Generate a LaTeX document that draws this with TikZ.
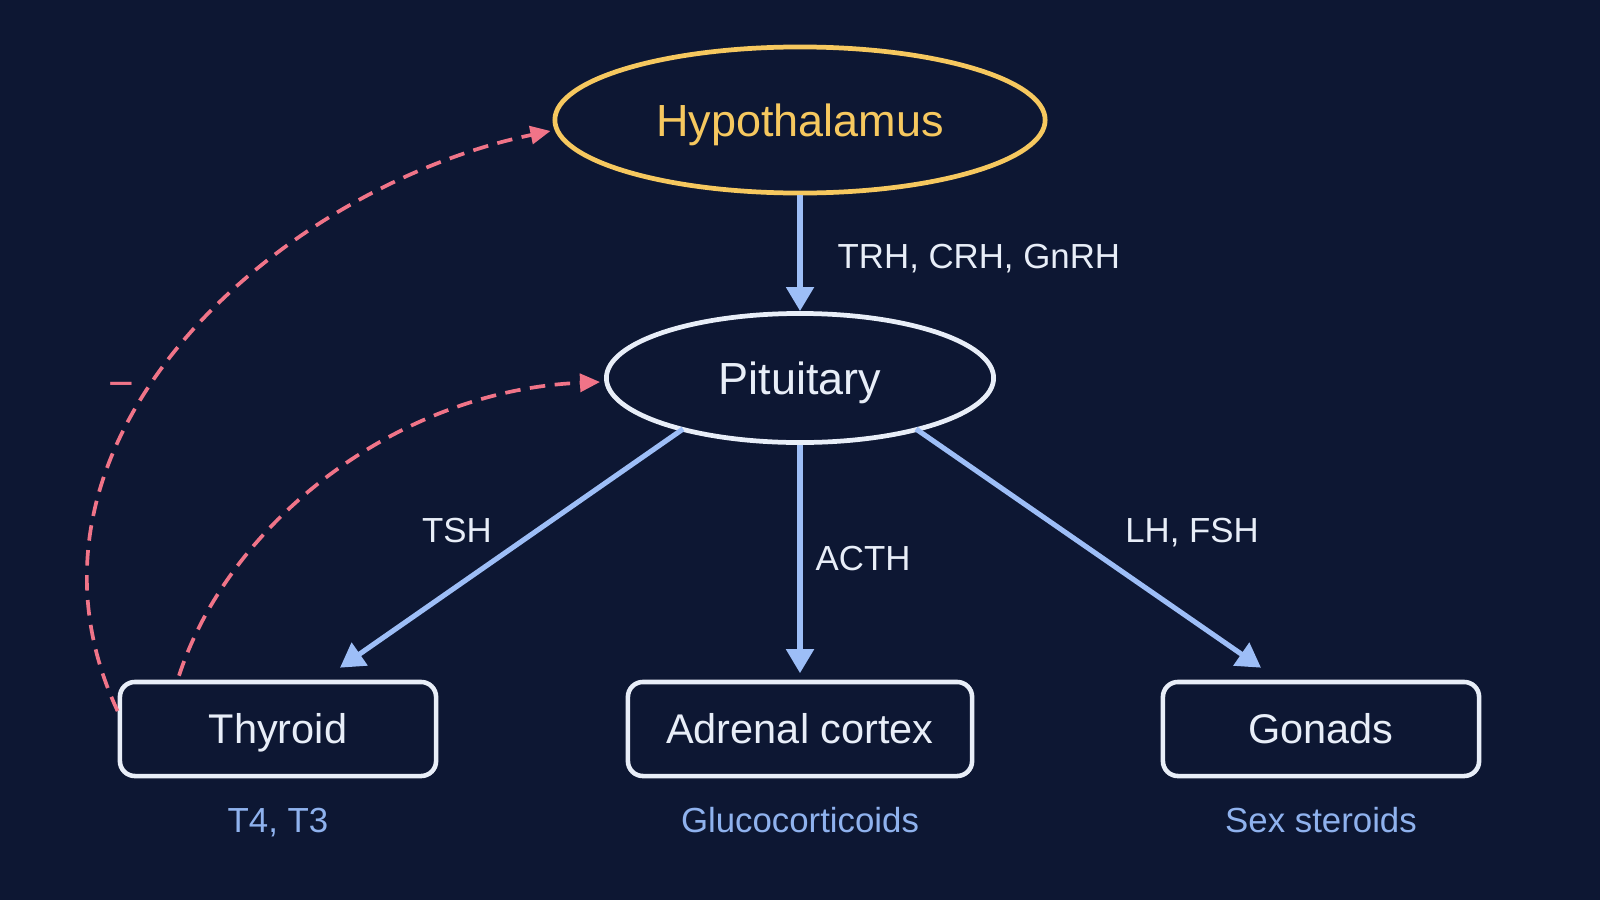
\documentclass[tikz,border=0pt]{standalone}
\usepackage{fontspec}
\setmainfont{Liberation Sans}
\usetikzlibrary{shapes.geometric,arrows.meta,calc}
\definecolor{bg}{RGB}{13,23,51}
\definecolor{yel}{RGB}{246,200,95}
\definecolor{wht}{RGB}{232,238,248}
\definecolor{blu}{RGB}{157,190,247}
\definecolor{lbl}{RGB}{143,178,238}
\definecolor{pnk}{RGB}{240,116,136}
\tikzset{
  gland/.style={ellipse, draw, line width=1.35pt, fill=bg, inner sep=0pt,
    font=\fontsize{12.8}{15}\selectfont, text height=9.2pt, text depth=0pt},
  organ/.style={draw=wht, rounded corners=0.15cm, line width=1.3pt, fill=bg, text=wht,
    minimum width=3.16cm, minimum height=0.94cm, inner sep=0pt,
    font=\fontsize{11.8}{14}\selectfont, text height=8.5pt, text depth=0pt},
  hormone/.style={text=lbl, font=\fontsize{9.9}{12}\selectfont, inner sep=0pt,
    text height=7.1pt, text depth=0pt},
  elabel/.style={text=wht, font=\fontsize{9.9}{12}\selectfont, inner sep=0pt,
    text height=7.1pt, text depth=0pt},
  arr/.style={draw=blu, line width=1.45pt, -{Triangle[length=0.24cm,width=0.27cm]}},
  feedback/.style={draw=pnk, line width=1.05pt, dash pattern=on 0.155cm off 0.095cm,
    -{Triangle[length=0.2cm,width=0.18cm]}},
}
\begin{document}
\begin{tikzpicture}[x=0.01cm,y=-0.01cm]
\fill[bg] (0,0) rectangle (1600,900);
\useasboundingbox (0,0) rectangle (1600,900);

\node[gland, draw=yel, text=yel, minimum width=4.9cm, minimum height=1.46cm] (hyp) at (800,120) {Hypothalamus};
\node[gland, draw=wht, text=wht, minimum width=3.87cm, minimum height=1.29cm] (pit) at (800,378) {Pituitary};

\node[organ] (thy) at (278,729) {Thyroid};
\node[organ, minimum width=3.44cm] (adr) at (800,729) {Adrenal cortex};
\node[organ] (gon) at (1321,729) {Gonads};

\node[hormone] (t4) at (278,820) {T4, T3};
\node[hormone] (gluc) at (800,820) {Glucocorticoids};
\node[hormone] (sex) at (1321,820) {Sex steroids};

\draw[arr] (hyp.south) -- (pit.north);
\draw[arr] ($(pit)+(-117,51)$) -- ($(thy.north)+(62,-12)$);
\draw[arr, shorten >=0.065cm] (pit.south) -- (adr.north);
\draw[arr] ($(pit)+(116,51)$) -- ($(gon.north)+(-60,-12)$);

\node[elabel, anchor=west] (trh) at (837,256) {TRH, CRH, GnRH};
\node[elabel] (tsh) at (457,530) {TSH};
\node[elabel, anchor=west] (acth) at (815,558) {ACTH};
\node[elabel] (lh) at (1192,530) {LH, FSH};

\draw[feedback] ($(thy.west)+(0,-18)$) .. controls (-9,441) and (280,187) .. ($(hyp.west)+(-2,11)$);
\draw[feedback] ($(thy.north)+(-99,-4)$) .. controls (230,520) and (400,390) .. ($(pit.west)+(-4,4)$);
\node[text=pnk, font=\fontsize{12.5}{14}\selectfont, inner sep=0pt, anchor=base] (minus) at (121,398) {−};
\end{tikzpicture}
\end{document}
